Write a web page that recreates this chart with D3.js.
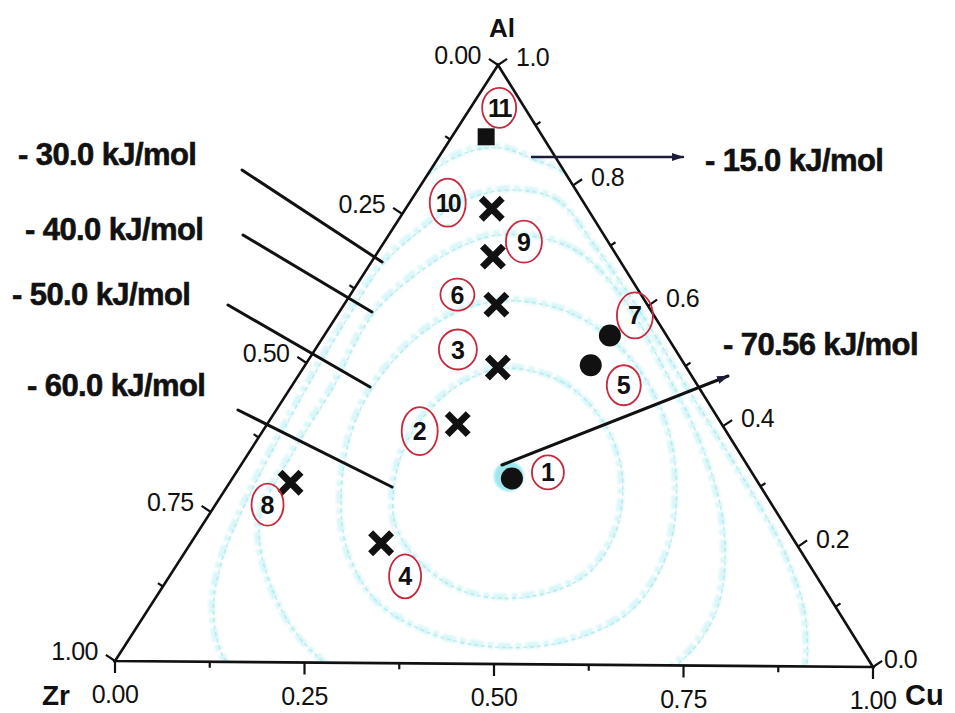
<!DOCTYPE html>
<html>
<head>
<meta charset="utf-8">
<script src="https://cdn.jsdelivr.net/npm/d3@7"></script>
<style>
  html, body { margin: 0; padding: 0; background: #fff; }
  svg { display: block; }
</style>
</head>
<body>
<script>
// ---- Alloy compositions (mole fractions Al / Cu / Zr) ----
const alloyIds    = [1, 2, 3, 4, 5, 6, 7, 8, 9, 10, 11];
const alloyAl     = [0.31, 0.40, 0.495, 0.20, 0.50, 0.60, 0.55, 0.30, 0.68, 0.76, 0.88];
const alloyCu     = [0.367, 0.25, 0.255, 0.25, 0.375, 0.20, 0.375, 0.08, 0.155, 0.113, 0.045];
const alloyZr     = [0.323, 0.35, 0.25, 0.55, 0.125, 0.20, 0.075, 0.62, 0.165, 0.127, 0.075];
const alloyMarker = ['dot', 'cross', 'cross', 'cross', 'dot', 'cross', 'dot', 'cross', 'cross', 'cross', 'square'];

// ---- Mixing-enthalpy iso-lines, points as [Al, Cu] (Zr = 1 - Al - Cu) ----
const contourLevels = [-15, -30, -40, -50, -60];
const contour15 = [[0.8641,0.0712],[0.8456,0.1228],[0.8154,0.1883],[0.6057,0.4393],[0.3037,0.7767],[0.0017,1.0348],
  [-0.1661,0.5918],[0.0017,-0.0338],[0.3205,-0.0497],[0.6057,-0.0092],[0.8070,-0.0054],[0.854,0.0263]];
const contour30 = [[0.7936,0.1135],[0.7785,0.1871],[0.698,0.2806],[0.5889,0.395],[0.4547,0.5288],[0.3205,0.6627],
  [0.1862,0.7898],[0.0688,0.8756],[-0.0319,0.9132],[-0.0906,0.7516],[-0.099,0.492],[-0.0654,0.2508],[0.0017,0.1443],
  [0.0856,0.0847],[0.1695,0.0529],[0.2534,0.0369],[0.3372,0.0274],[0.4211,0.0207],[0.505,0.0153],[0.5889,0.0124],
  [0.6695,0.014],[0.7265,0.0352],[0.7735,0.0644]];
const contour40 = [[0.7198,0.1508],[0.6963,0.2511],[0.6191,0.3534],[0.505,0.4639],[0.3708,0.5844],[0.2366,0.6813],
  [0.1107,0.7396],[0.0268,0.745],[-0.0403,0.6997],[-0.0654,0.541],[-0.0487,0.3741],[0.0218,0.2462],[0.1191,0.147],
  [0.2366,0.0691],[0.354,0.0546],[0.4631,0.0522],[0.5856,0.0431],[0.6644,0.0732],[0.703,0.1065]];
const contour50 = [[0.6091,0.2067],[0.5889,0.3026],[0.5218,0.4091],[0.4211,0.5088],[0.3037,0.5854],[0.1862,0.6315],
  [0.094,0.6319],[0.0436,0.5782],[0.0302,0.4926],[0.052,0.3893],[0.1057,0.2896],[0.1946,0.2051],[0.2953,0.1476],
  [0.3876,0.1142],[0.4597,0.1041],[0.5386,0.117],[0.5889,0.1509]];
const contour60 = [[0.4966,0.2636],[0.4748,0.3471],[0.4128,0.4313],[0.3289,0.5],[0.2282,0.5443],[0.1527,0.5429],
  [0.1158,0.4891],[0.1191,0.4082],[0.1611,0.3276],[0.2282,0.2541],[0.2919,0.2179],[0.3708,0.1953],[0.4379,0.2009],
  [0.4799,0.2259]];
const contourPoints = [contour15, contour30, contour40, contour50, contour60];

// ---- Iso-line annotations: text and the composition each leader points to ----
const annotationText = ['- 15.0 kJ/mol', '- 30.0 kJ/mol', '- 40.0 kJ/mol', '- 50.0 kJ/mol', '- 60.0 kJ/mol', '- 70.56 kJ/mol'];
const annotationAl   = [0.8469, 0.6696, 0.586, 0.4608, 0.2941, 0.3323];
const annotationCu   = [0.1222, 0.014, 0.0429, 0.1036, 0.2169, 0.3426];

// ---- Axis ticks ----
const cuTicks = [0, 0.25, 0.5, 0.75, 1.0];
const cuMinorTicks = [0.125, 0.375, 0.625, 0.875];
const zrTicks = [0, 0.25, 0.5, 0.75, 1.0];
const zrMinorTicks = [0.125, 0.375, 0.625, 0.875];
const alTicks = [0, 0.2, 0.4, 0.6, 0.8, 1.0];
const alMinorTicks = [0.1, 0.3, 0.5, 0.7, 0.9];
const cornerNames = ['Al', 'Zr', 'Cu'];

// ---------------- layout ----------------
const W = 955, H = 713;
const VA = [498, 65];   // Al corner
const VZ = [115, 661];  // Zr corner
const VC = [873, 667];  // Cu corner
const FONT = '"Liberation Sans", Arial, Helvetica, sans-serif';

const svg = d3.select('body').append('svg').attr('width', W).attr('height', H);
svg.append('rect').attr('width', W).attr('height', H).attr('fill', '#fff');

// barycentric projection built from linear scales
const cuX = d3.scaleLinear().domain([0, 1]).range([0, VC[0] - VZ[0]]);
const cuY = d3.scaleLinear().domain([0, 1]).range([0, VC[1] - VZ[1]]);
const alX = d3.scaleLinear().domain([0, 1]).range([0, VA[0] - VZ[0]]);
const alY = d3.scaleLinear().domain([0, 1]).range([0, VA[1] - VZ[1]]);
const proj = (al, cu) => [VZ[0] + cuX(cu) + alX(al), VZ[1] + cuY(cu) + alY(al)];

const defs = svg.append('defs');
defs.append('clipPath').attr('id', 'tri')
  .append('path').attr('d', 'M' + [VA, VZ, VC].map(p => p.join(',')).join('L') + 'Z');
defs.append('filter').attr('id', 'soft').append('feGaussianBlur').attr('stdDeviation', 0.9);
defs.append('marker').attr('id', 'arrow').attr('viewBox', '0 0 12 10')
  .attr('refX', 11).attr('refY', 5).attr('markerWidth', 12).attr('markerHeight', 10)
  .attr('markerUnits', 'userSpaceOnUse').attr('orient', 'auto')
  .append('path').attr('d', 'M0,1 L12,5 L0,9 Z').attr('fill', '#1c1c3a');

// ---- iso-lines ----
const lineGen = d3.line().curve(d3.curveCatmullRomClosed.alpha(0.5));
const gC = svg.append('g').attr('clip-path', 'url(#tri)');
contourPoints.forEach((pts, i) => {
  const d = lineGen(pts.map(p => proj(p[0], p[1])));
  gC.append('path').attr('d', d).attr('fill', 'none')
    .attr('stroke', '#a9eaef').attr('stroke-width', 7).attr('stroke-opacity', 0.42)
    .attr('stroke-dasharray', '14 4 6 4').attr('filter', 'url(#soft)');
  gC.append('path').attr('d', d).attr('fill', 'none')
    .attr('stroke', '#8fdfe6').attr('stroke-width', 1.4).attr('stroke-opacity', 0.55)
    .attr('stroke-dasharray', '4 3').attr('transform', 'translate(1.5,1.5)');
});

// halo at the enthalpy minimum
const minPos = proj(alloyAl[0], alloyCu[0]);
svg.append('circle').attr('cx', minPos[0] - 3).attr('cy', minPos[1] - 2).attr('r', 15)
  .attr('fill', '#7fe0e8').attr('opacity', 0.75).attr('filter', 'url(#soft)');

// ---- triangle frame ----
svg.append('path')
  .attr('d', 'M' + [VA, VZ, VC].map(p => p.join(',')).join('L') + 'Z')
  .attr('fill', 'none').attr('stroke', '#111').attr('stroke-width', 2.6).attr('stroke-linejoin', 'miter');

// ---- ticks ----
const gT = svg.append('g').attr('stroke', '#111').attr('stroke-width', 2.2);
const gL = svg.append('g').attr('font-family', FONT).attr('font-size', 25).attr('fill', '#111')
  .attr('letter-spacing', -0.5);

function drawTicks(values, posFn, dir, len) {
  values.forEach(v => {
    const p = posFn(v);
    gT.append('line').attr('x1', p[0]).attr('y1', p[1])
      .attr('x2', p[0] + dir[0] * len).attr('y2', p[1] + dir[1] * len);
  });
}
// bottom: Cu fraction from Zr corner to Cu corner
const cuPos = v => proj(0, v);
drawTicks(cuTicks, cuPos, [0, 1], 12);
drawTicks(cuMinorTicks, cuPos, [0, 1], 6);
cuTicks.forEach(v => {
  const p = cuPos(v);
  gL.append('text').attr('x', p[0]).attr('y', p[1] + 42).attr('text-anchor', 'middle')
    .text(d3.format('.2f')(v));
});
// left: Zr fraction from Al corner to Zr corner
const zrPos = v => proj(1 - v, 0);
const leftDir = [-0.83, -0.56], rightDir = [0.83, -0.56];
drawTicks(zrTicks, zrPos, leftDir, 11);
drawTicks(zrMinorTicks, zrPos, leftDir, 6);
zrTicks.forEach(v => {
  const p = zrPos(v);
  gL.append('text').attr('x', p[0] - 17).attr('y', p[1] - 1).attr('text-anchor', 'end')
    .text(d3.format('.2f')(v));
});
// right: Al fraction from Cu corner to Al corner
const alPos = v => proj(v, 1 - v);
drawTicks(alTicks, alPos, rightDir, 11);
drawTicks(alMinorTicks, alPos, rightDir, 6);
alTicks.forEach(v => {
  const p = alPos(v);
  gL.append('text').attr('x', p[0] + (v === 0 ? 11 : 18)).attr('y', p[1] + 1).attr('text-anchor', 'start')
    .text(d3.format('.1f')(v));
});

// corner names
const gN = svg.append('g').attr('font-family', FONT).attr('font-weight', 700).attr('fill', '#111');
gN.append('text').attr('x', VA[0] + 4).attr('y', VA[1] - 28).attr('text-anchor', 'middle')
  .attr('font-size', 26).text(cornerNames[0]);
gN.append('text').attr('x', VZ[0] - 73).attr('y', VZ[1] + 44).attr('text-anchor', 'start')
  .attr('font-size', 28).text(cornerNames[1]);
gN.append('text').attr('x', VC[0] + 32).attr('y', VC[1] + 38).attr('text-anchor', 'start')
  .attr('font-size', 29).text(cornerNames[2]);

// ---- iso-line annotations ----
// leader tails and text anchors (pixels)
const annotLayout = [
  { tail: [683, 157], text: [705, 171], arrow: true,  color: '#1c1c3a', w: 2.4 },
  { tail: [242, 170], text: [18, 165],  arrow: false, color: '#111', w: 3 },
  { tail: [243, 235], text: [25, 240],  arrow: false, color: '#111', w: 3 },
  { tail: [228, 305], text: [12, 305],  arrow: false, color: '#111', w: 3 },
  { tail: [238, 410], text: [27, 396],  arrow: false, color: '#111', w: 3 },
  { tail: [728, 376], text: [723, 355], arrow: true,  color: '#111', w: 3 }
];
const gA = svg.append('g');
annotationText.forEach((t, i) => {
  const L = annotLayout[i];
  const target = proj(annotationAl[i], annotationCu[i]);
  const ln = gA.append('line')
    .attr('x1', L.arrow ? target[0] : L.tail[0]).attr('y1', L.arrow ? target[1] : L.tail[1])
    .attr('x2', L.arrow ? L.tail[0] : target[0]).attr('y2', L.arrow ? L.tail[1] : target[1])
    .attr('stroke', L.color).attr('stroke-width', L.w).attr('stroke-linecap', 'round');
  if (L.arrow) ln.attr('marker-end', 'url(#arrow)');
  gA.append('text').attr('x', L.text[0]).attr('y', L.text[1])
    .attr('font-family', FONT).attr('font-weight', 700).attr('font-size', 31)
    .attr('letter-spacing', -0.6).attr('fill', '#111')
    .attr('stroke', '#111').attr('stroke-width', 0.6).text(t);
});

// ---- alloy markers ----
const gM = svg.append('g');
alloyIds.forEach((id, i) => {
  const p = proj(alloyAl[i], alloyCu[i]);
  const m = alloyMarker[i];
  if (m === 'dot') {
    gM.append('circle').attr('cx', p[0]).attr('cy', p[1]).attr('r', 11).attr('fill', '#111');
  } else if (m === 'square') {
    gM.append('rect').attr('x', p[0] - 8.5).attr('y', p[1] - 8.5).attr('width', 17).attr('height', 17)
      .attr('fill', '#111');
  } else {
    const s = 10.5;
    gM.append('path')
      .attr('d', `M${p[0] - s},${p[1] - s}L${p[0] + s},${p[1] + s}M${p[0] + s},${p[1] - s}L${p[0] - s},${p[1] + s}`)
      .attr('stroke', '#111').attr('stroke-width', 7).attr('stroke-linecap', 'butt');
  }
});

// ---- numbered tags (offset from each marker, pixels) ----
const tagLayout = {
  1: { dx: 36, dy: -6, rx: 16, ry: 17 },
  2: { dx: -38, dy: 7, rx: 18, ry: 24 },
  3: { dx: -40, dy: -18, rx: 19, ry: 20 },
  4: { dx: 24, dy: 33, rx: 16, ry: 22 },
  5: { dx: 33, dy: 20, rx: 17, ry: 20 },
  6: { dx: -39, dy: -10, rx: 17, ry: 16 },
  7: { dx: 25, dy: -20, rx: 18, ry: 23 },
  8: { dx: -23, dy: 22, rx: 16, ry: 21 },
  9: { dx: 31, dy: -15, rx: 18, ry: 21 },
  10: { dx: -44, dy: -6, rx: 18, ry: 24 },
  11: { dx: 13, dy: -29, rx: 17, ry: 20 }
};
const gTag = svg.append('g');
alloyIds.forEach((id, i) => {
  const p = proj(alloyAl[i], alloyCu[i]);
  const t = tagLayout[id];
  const cx = p[0] + t.dx, cy = p[1] + t.dy;
  gTag.append('ellipse').attr('cx', cx).attr('cy', cy).attr('rx', t.rx).attr('ry', t.ry)
    .attr('fill', 'none').attr('stroke', '#c8283c').attr('stroke-width', 1.8);
  gTag.append('text').attr('x', cx).attr('y', cy + 9).attr('text-anchor', 'middle')
    .attr('font-family', FONT).attr('font-weight', 700).attr('font-size', 25)
    .attr('letter-spacing', id > 9 ? -2 : 0).attr('fill', '#111').text(id);
});
</script>
</body>
</html>
